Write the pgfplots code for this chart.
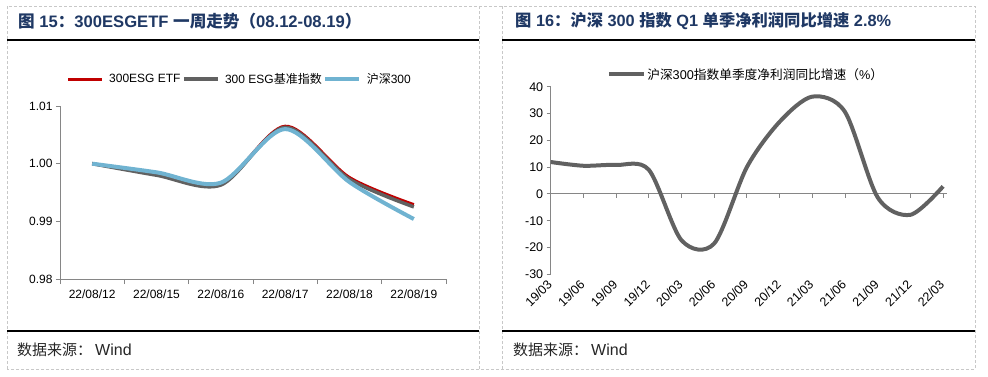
\documentclass[border=0pt]{standalone}
\usepackage{fontspec}
\setmainfont{Liberation Sans}
\newfontfamily\cjk{Noto Sans CJK SC}
\usepackage{pgfplots}
\pgfplotsset{compat=1.18}
\definecolor{ttl}{HTML}{1F3864}
\definecolor{cred}{HTML}{C00000}
\definecolor{cgray}{HTML}{616161}
\definecolor{cblue}{HTML}{70B3D1}
\definecolor{brd}{HTML}{C8C8C8}
\definecolor{axg}{HTML}{868686}
\begin{document}
\begin{tikzpicture}[x=1pt,y=1pt]
\path (0,0) rectangle (988,376);
\draw[brd, dash pattern=on 3pt off 2pt, line width=0.8pt] (7,7) rectangle (975,370);
\draw[brd, dash pattern=on 3pt off 2pt, line width=0.8pt] (479,7) -- (479,370) (502,7) -- (502,370);
\draw[black, line width=1.3pt] (7,336) -- (479,336) (502,336) -- (975,336);
\draw[black, line width=1.3pt] (7,45) -- (479,45) (502,45) -- (975,45);
\node[anchor=west, text=ttl, font=\bfseries\fontsize{16.6}{16.6}\selectfont, inner sep=0pt] at (18,355)
  {{\cjk 图} 15{\cjk ：}300ESGETF {\cjk 一周走势（}08.12-08.19{\cjk ）}};
\node[anchor=west, text=ttl, font=\bfseries\fontsize{16.3}{16.3}\selectfont, inner sep=0pt] at (515,355)
  {{\cjk 图} 16{\cjk ：沪深} 300 {\cjk 指数} Q1 {\cjk 单季净利润同比增速} 2.8\%};
\node[anchor=west, inner sep=0pt, font=\fontsize{15}{15}\selectfont, text=black!85] at (17,26) {{\cjk 数据来源：}\hspace{3pt}{\fontsize{16}{16}\selectfont Wind}};
\node[anchor=west, inner sep=0pt, font=\fontsize{15}{15}\selectfont, text=black!85] at (513,26) {{\cjk 数据来源：}\hspace{3pt}{\fontsize{16}{16}\selectfont Wind}};

\begin{axis}[at={(60pt,97pt)}, anchor=south west, scale only axis, width=386pt, height=173pt,
  xmin=-0.5, xmax=5.5, ymin=0.98, ymax=1.01,
  axis lines*=left, axis line style={axg, line width=0.9pt},
  tick align=outside, tick style={axg, line width=0.9pt}, major tick length=4pt, minor tick length=5pt,
  xtick={0,...,5}, xticklabels={22/08/12,22/08/15,22/08/16,22/08/17,22/08/18,22/08/19},
  minor xtick={-0.5,0.5,1.5,2.5,3.5,4.5,5.5},
  major x tick style={draw=none},
  xticklabel style={yshift=-3pt},
  ytick={0.98,0.99,1.00,1.01},
  yticklabel style={/pgf/number format/.cd, fixed, fixed zerofill, precision=2},
  /pgf/number format/assume math mode=true,
  tick label style={font=\fontsize{12}{12}\selectfont, text=black},
  legend style={at={(0.465,1.156)}, anchor=center, draw=none, fill=none, legend columns=3,
    font=\fontsize{12}{12}\selectfont, nodes={inner sep=1.5pt},
    /tikz/every odd column/.append style={column sep=4pt}},
  legend image code/.code={\draw[#1] (0pt,0pt) -- (34pt,0pt);},
]
\addplot[cred, line width=3pt, smooth, tension=0.5] coordinates {(0,1.0000) (1,0.9982) (2,0.9964) (3,1.0065) (4,0.9976) (5,0.9929)};
\addlegendentry{300ESG ETF}
\addplot[cgray, line width=3.5pt, smooth, tension=0.5] coordinates {(0,1.0000) (1,0.9980) (2,0.9963) (3,1.0063) (4,0.9973) (5,0.9925)};
\addlegendentry{300 ESG{\cjk 基准指数}}
\addplot[cblue, line width=4pt, smooth, tension=0.5] coordinates {(0,1.0000) (1,0.9985) (2,0.9967) (3,1.0060) (4,0.9968) (5,0.9904)};
\addlegendentry{{\cjk 沪深}300}
\end{axis}

\begin{axis}[at={(550.7pt,101.7pt)}, anchor=south west, scale only axis, width=396.3pt, height=187.6pt,
  xmin=0, xmax=12.12, ymin=-30, ymax=40,
  axis lines*=left, axis line style={axg, line width=0.9pt}, x axis line style={draw=none},
  tick align=outside, tick style={axg, line width=0.9pt}, major tick length=4pt,
  xtick={0,...,12}, xticklabels={19/03,19/06,19/09,19/12,20/03,20/06,20/09,20/12,21/03,21/06,21/09,21/12,22/03},
  major x tick style={draw=none},
  xticklabel style={rotate=45, anchor=east, yshift=-2pt},
  ytick={-30,-20,...,40},
  /pgf/number format/assume math mode=true,
  tick label style={font=\fontsize{12.5}{12.5}\selectfont, text=black},
  legend style={at={(0.492,1.066)}, anchor=center, draw=none, fill=none,
    font=\fontsize{12.7}{12.7}\selectfont, nodes={inner sep=1.5pt}},
  legend image code/.code={\draw[#1] (0pt,0pt) -- (35pt,0pt);},
]
\draw[axg, line width=0.9pt] (axis cs:0,0) -- (axis cs:12.12,0);
\pgfplotsinvokeforeach{1,...,12}{\draw[axg, line width=0.9pt] (axis cs:#1,0) -- ++(0pt,-4pt);}
\addplot[cgray, line width=4pt, smooth, tension=0.5] coordinates {(0,11.9) (1,10.5) (2,10.8) (3,9.0) (4,-17.3) (5,-18.5) (6,10.0) (7,26.9) (8,36.3) (9,30.6) (10,-1.3) (11,-7.8) (12,2.8)};
\addlegendentry{{\cjk 沪深}300{\cjk 指数单季度净利润同比增速（}\%{\cjk ）}}
\end{axis}
\end{tikzpicture}
\end{document}
